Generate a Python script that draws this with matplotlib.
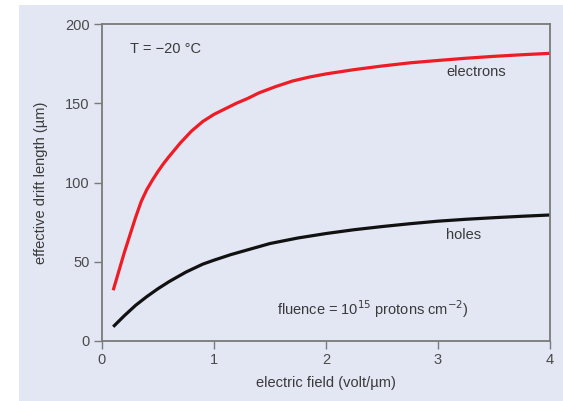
import matplotlib
matplotlib.use("Agg")
import matplotlib.pyplot as plt
from matplotlib.patches import Rectangle

plt.rcParams['font.family'] = ['Liberation Sans', 'DejaVu Sans']

# Data
e_field_electrons = [0.1, 0.15, 0.2, 0.25, 0.3, 0.35, 0.4, 0.45, 0.5, 0.55, 0.6, 0.7, 0.8, 0.9, 1.0,
                     1.1, 1.2, 1.3, 1.4, 1.55, 1.7, 1.85, 2.0, 2.25, 2.5, 2.75, 3.0, 3.25, 3.5, 3.75, 4.0]
drift_electrons = [32, 44, 56, 67, 78, 88, 95.5, 101.5, 107, 112, 116.5, 125, 132.5, 138.5, 143,
                   146.5, 150, 153, 156.5, 160.5, 164, 166.5, 168.5, 171.2, 173.5, 175.5, 177, 178.4, 179.6, 180.6, 181.5]

e_field_holes = [0.1, 0.2, 0.3, 0.4, 0.5, 0.6, 0.75, 0.9, 1.0, 1.15, 1.3, 1.5, 1.75, 2.0,
                 2.25, 2.5, 2.75, 3.0, 3.25, 3.5, 3.75, 4.0]
drift_holes = [9, 16, 22.5, 28, 33, 37.5, 43.5, 48.5, 51, 54.5, 57.5, 61.5, 65, 67.8,
               70.2, 72.2, 74, 75.6, 76.8, 77.8, 78.7, 79.5]

x_ticks = [0, 1, 2, 3, 4]
y_ticks = [0, 50, 100, 150, 200]

bg = '#e3e6f3'
txt = '#3a3a3a'
spine_c = '#7a7a7a'

fig = plt.figure(figsize=(5.63, 4.01), dpi=100)
fig.patch.set_facecolor('white')
fig.patches.append(Rectangle((19/563, 0), 1 - 19/563, 1 - 5/401,
                             transform=fig.transFigure, facecolor=bg,
                             edgecolor='none', zorder=-10))

ax = fig.add_axes([102/563, 60/401, 448/563, 317/401])
ax.set_facecolor(bg)

ax.plot(e_field_electrons, drift_electrons, color='#ee1c25', lw=2.3,
        solid_capstyle='butt', solid_joinstyle='round')
ax.plot(e_field_holes, drift_holes, color='#111111', lw=2.3,
        solid_capstyle='butt', solid_joinstyle='round')

ax.set_xlim(0, 4)
ax.set_ylim(0, 200)
ax.set_xticks(x_ticks)
ax.set_yticks(y_ticks)
ax.tick_params(direction='out', length=6, width=1, color=spine_c,
               labelcolor='#4a4a4a', labelsize=10.5, pad=3)
for s in ax.spines.values():
    s.set_color(spine_c)
    s.set_linewidth(1.3)

ax.set_xlabel('electric field (volt/µm)', color=txt, fontsize=10.5, labelpad=6)
ax.set_ylabel('effective drift length (µm)', color=txt, fontsize=10.5, labelpad=12)

ax.text(0.25, 184, 'T = −20 °C', color=txt, fontsize=10.5, va='center', ha='left')
ax.text(3.345, 170, 'electrons', color=txt, fontsize=10.5, va='center', ha='center')
ax.text(3.23, 66.9, 'holes', color=txt, fontsize=10.5, va='center', ha='center')
ax.text(1.56, 20, r'fluence = 10$^{15}$ protons cm$^{-2}$)', color=txt,
        fontsize=10.5, va='center', ha='left')

fig.savefig('out.png', dpi=100, facecolor=fig.get_facecolor())
